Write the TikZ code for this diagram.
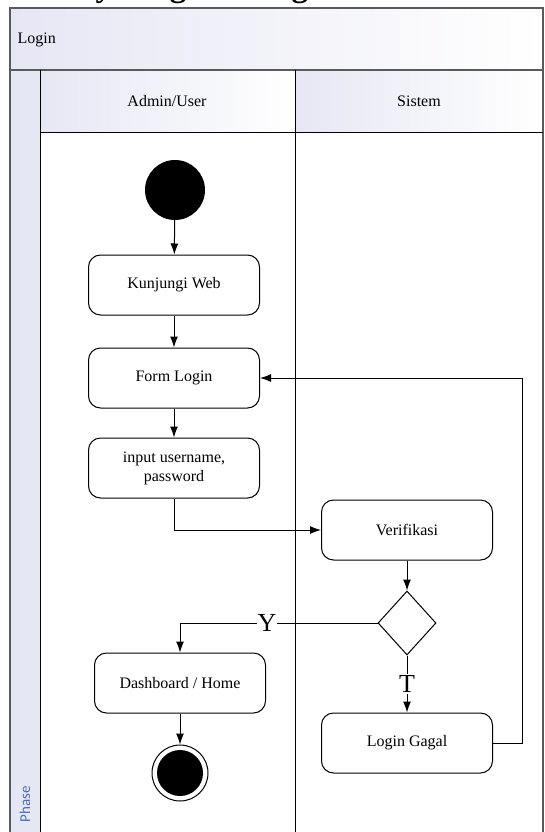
\documentclass[tikz,border=0pt]{standalone}
\usepackage{fontspec}
\setmainfont{Liberation Serif}
\newfontfamily\phasefont{Carlito}
\usetikzlibrary{arrows.meta,shapes.geometric}
\definecolor{lane}{RGB}{230,231,244}
\definecolor{phaseblue}{RGB}{70,110,190}
\definecolor{frame}{RGB}{90,90,90}

\begin{document}
\begin{tikzpicture}[x=1pt,y=-1pt,
  act/.style={rectangle, draw, rounded corners=12pt, minimum width=171pt, minimum height=60pt, line width=1pt, align=center, font=\fontsize{16}{19}\selectfont},
  arr/.style={-{Latex[length=11pt,width=8pt]}, line width=1pt},
  lbl/.style={fill=white, inner sep=1pt, font=\fontsize{26}{28}\selectfont}]
\useasboundingbox (0,0) rectangle (544,832);

% title, cut off at the top
\begin{scope}
\clip (0,0) rectangle (544,5);
\node[anchor=base west, inner sep=0pt, font=\fontsize{33}{35}\selectfont\bfseries] (title) at (0,-3) {Activity Diagram Login};
\end{scope}

% pool and lanes
\shade[left color=lane, right color=white] (10,8) rectangle (543,70);
\fill[lane] (10,70) rectangle (40,840);
\shade[left color=lane, right color=white] (40,70) rectangle (295,133);
\shade[left color=lane, right color=white] (295,70) rectangle (543,133);
\draw[frame, line width=1.2pt] (10,8) rectangle (543,840);
\draw[frame, line width=1.2pt] (10,70) -- (543,70);
\draw[line width=1pt] (40,70) -- (40,840);
\draw[line width=1pt] (40,133) -- (543,133);
\draw[line width=1pt] (295,70) -- (295,840);

\node[anchor=west, font=\fontsize{16}{19}\selectfont] (pool) at (14,40) {Login};
\node[font=\fontsize{16}{19}\selectfont] (user) at (167,101) {Admin/User};
\node[font=\fontsize{16}{19}\selectfont] (sys) at (419,101) {Sistem};
\node[rotate=90, anchor=west, text=phaseblue, font=\phasefont\fontsize{15}{18}\selectfont] (phase) at (25,826) {Phase};

% activities
\node[circle, fill, minimum size=60pt, inner sep=0pt] (start) at (175,190) {};
\node[act] (kunjungi) at (174,285) {Kunjungi Web};
\node[act] (form) at (174,378) {Form Login};
\node[act] (input) at (174,468) {input username,\\password};
\node[act] (verif) at (407,530) {Verifikasi};
\node[diamond, draw, line width=1pt, minimum width=58pt, minimum height=64pt, inner sep=0pt] (dec) at (407,623) {};
\node[act] (dash) at (180,683) {Dashboard / Home};
\node[act] (gagal) at (407,743) {Login Gagal};
\node[circle, draw, line width=1pt, minimum size=56pt, inner sep=0pt] (end) at (180,773) {};
\fill (end.center) circle (23);
\coordinate (back) at (522,378);

% flows
\draw[arr] (start) -- (kunjungi);
\draw[arr] (kunjungi) -- (form);
\draw[arr] (form) -- (input);
\draw[arr] (input.south) |- (verif.west);
\draw[arr] (verif) -- (dec);
\draw[arr] (dec.west) -| node[lbl, pos=0.28] {Y} (dash.north);
\draw[arr] (dec.south) -- node[lbl] {T} (gagal.north);
\draw[arr] (gagal.east) -| (back) -- (form.east);
\draw[arr] (dash) -- (end);

\end{tikzpicture}
\end{document}
